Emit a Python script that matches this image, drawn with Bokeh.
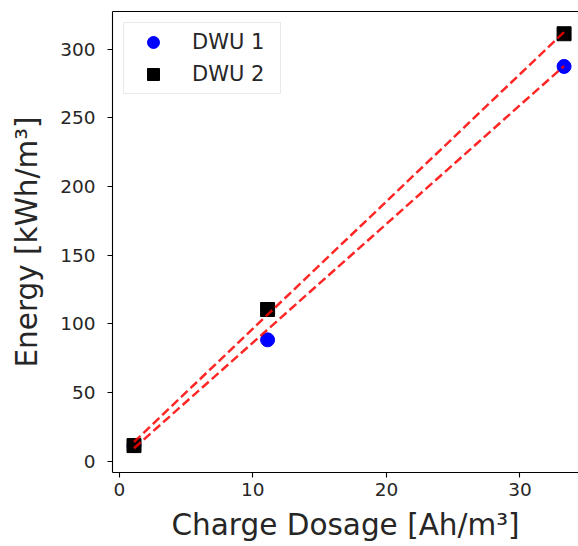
from bokeh.plotting import figure
from bokeh.models import (Range1d, FixedTicker, LinearAxis, Legend, LegendItem,
                          ColumnDataSource)
from bokeh.embed import file_html
from bokeh.resources import INLINE

# data
charge = [1.1, 11.1, 33.3]
dwu1_energy = [11.4, 88.4, 287.5]
dwu2_energy = [11.4, 110.5, 311.3]
# dashed fit lines
dwu1_fit = [9.5, 95.9, 287.8]
dwu2_fit = [14.0, 106.7, 312.5]
x_ticks = [0, 10, 20, 30]
y_ticks = [0, 50, 100, 150, 200, 250, 300]

FONT = "DejaVu Sans"
TXT = "#262626"

p = figure(width=578, height=546, output_backend="svg", toolbar_location=None,
           x_range=Range1d(-0.51, 34.38), y_range=Range1d(-8.2, 327.5),
           min_border_left=112, min_border_right=0, min_border_top=11,
           min_border_bottom=74, x_axis_label="Charge Dosage [Ah/m³]",
           y_axis_label="Energy [kWh/m³]")
p.background_fill_color = "white"
p.border_fill_color = "white"
p.outline_line_color = None
p.grid.visible = False

for ax in (p.xaxis[0], p.yaxis[0]):
    ax.axis_line_color = "black"
    ax.axis_line_width = 1.1
    ax.major_tick_line_color = "black"
    ax.major_tick_line_width = 1.1
    ax.major_tick_in = 0
    ax.major_tick_out = 5
    ax.minor_tick_line_color = None
    ax.major_label_text_font = FONT
    ax.major_label_text_font_size = "18.5px"
    ax.major_label_text_color = TXT
    ax.axis_label_text_font = FONT
    ax.axis_label_text_font_size = "29.5px"
    ax.axis_label_text_font_style = "normal"
    ax.axis_label_text_color = TXT

p.xaxis[0].ticker = FixedTicker(ticks=x_ticks)
p.yaxis[0].ticker = FixedTicker(ticks=y_ticks)
p.xaxis[0].major_label_standoff = 5
p.xaxis[0].axis_label_standoff = 9
p.yaxis[0].major_label_standoff = 12
p.yaxis[0].axis_label_standoff = 13

top = LinearAxis(ticker=FixedTicker(ticks=[]), axis_line_color="black",
                 axis_line_width=1.1, major_tick_out=0, major_tick_in=0,
                 minor_tick_line_color=None, major_label_text_font_size="0px",
                 major_label_standoff=0)
p.add_layout(top, "above")

src = ColumnDataSource(dict(x=charge, y1=dwu1_energy, y2=dwu2_energy,
                            f1=dwu1_fit, f2=dwu2_fit))

r1 = p.scatter("x", "y1", source=src, marker="circle", size=14,
               fill_color="#0000ff", line_color="#0000ff")
r2 = p.scatter("x", "y2", source=src, marker="square", size=14,
               fill_color="black", line_color="black")
p.line("x", "f1", source=src, line_color="#ff0000", line_alpha=0.85,
       line_width=2.5, line_dash="9 4")
p.line("x", "f2", source=src, line_color="#ff0000", line_alpha=0.85,
       line_width=2.5, line_dash="9 4")

legend = Legend(items=[LegendItem(label="DWU 1", renderers=[r1]),
                       LegendItem(label="DWU 2", renderers=[r2])],
                location="top_left", margin=11, padding=4, spacing=2,
                glyph_width=50, glyph_height=30, label_height=30,
                label_width=84, label_standoff=14,
                label_text_font=FONT, label_text_font_size="21px",
                label_text_color=TXT, border_line_color="#d4d4d4",
                border_line_width=1.1, background_fill_color="white",
                background_fill_alpha=1.0)
p.add_layout(legend)

open("out.html", "w").write(file_html(p, INLINE))
